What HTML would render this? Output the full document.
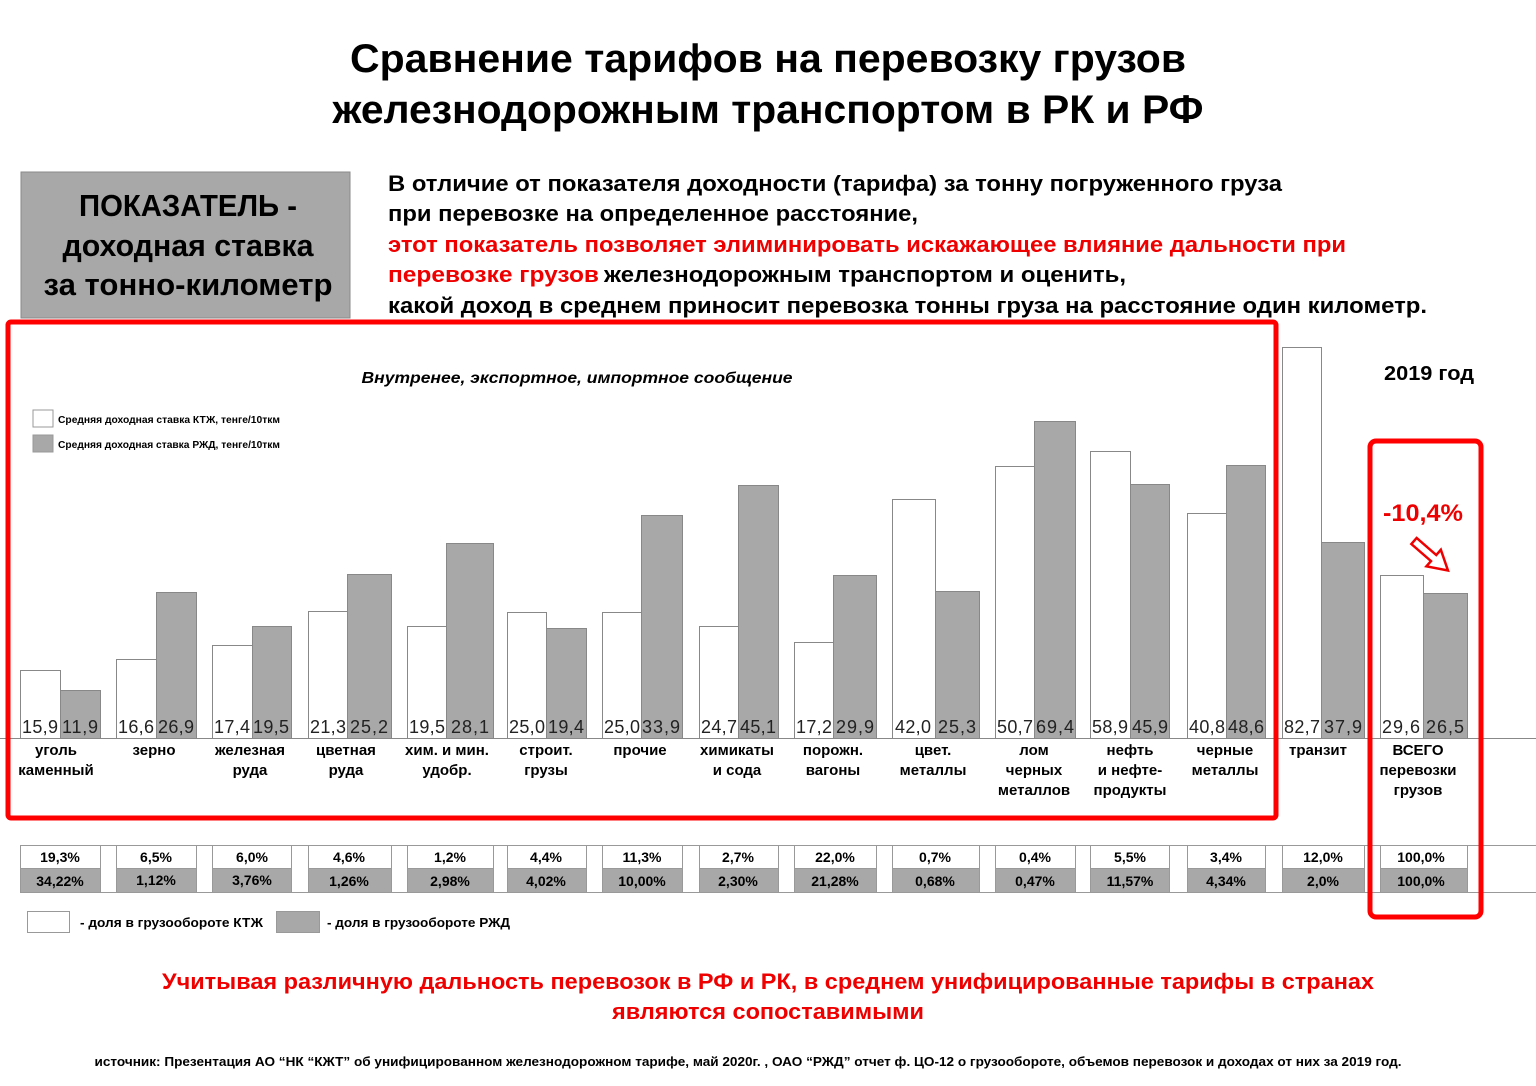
<!DOCTYPE html>
<html><head><meta charset="utf-8"><style>html,body{margin:0;padding:0;background:#fff}svg{display:block}</style></head><body>
<svg width="1536" height="1086" viewBox="0 0 1536 1086" xmlns="http://www.w3.org/2000/svg" font-family="Liberation Sans, DejaVu Sans, sans-serif">
<rect width="1536" height="1086" fill="#fff"/>
<g font-weight="bold" font-size="40" fill="#000" text-anchor="middle">
<text x="768" y="72" textLength="836" lengthAdjust="spacingAndGlyphs">Сравнение тарифов на перевозку грузов</text>
<text x="768" y="123" textLength="871" lengthAdjust="spacingAndGlyphs">железнодорожным транспортом в РК и РФ</text>
</g>
<rect x="21" y="172" width="329" height="146" fill="#a8a8a8" stroke="#8a8a8a"/>
<g font-weight="bold" font-size="31" fill="#000" text-anchor="middle">
<text x="188" y="216" textLength="218" lengthAdjust="spacingAndGlyphs">ПОКАЗАТЕЛЬ -</text>
<text x="188" y="256" textLength="251" lengthAdjust="spacingAndGlyphs">доходная ставка</text>
<text x="188" y="295" textLength="289" lengthAdjust="spacingAndGlyphs">за тонно-километр</text>
</g>
<g font-weight="bold" font-size="22" fill="#000">
<text x="388" y="191" textLength="894" lengthAdjust="spacingAndGlyphs">В отличие от показателя доходности (тарифа) за тонну погруженного груза</text>
<text x="388" y="221" textLength="530" lengthAdjust="spacingAndGlyphs">при перевозке на определенное расстояние,</text>
<text x="388" y="252" textLength="958" lengthAdjust="spacingAndGlyphs" fill="#ee0000">этот показатель позволяет элиминировать искажающее влияние дальности при</text>
<text x="388" y="282" textLength="211" lengthAdjust="spacingAndGlyphs" fill="#ee0000">перевозке грузов</text>
<text x="604" y="282" textLength="522" lengthAdjust="spacingAndGlyphs">железнодорожным транспортом и оценить,</text>
<text x="388" y="313" textLength="1039" lengthAdjust="spacingAndGlyphs">какой доход в среднем приносит перевозка тонны груза на расстояние один километр.</text>
</g>
<text x="577" y="383" font-size="16" font-weight="bold" font-style="italic" text-anchor="middle" textLength="431" lengthAdjust="spacingAndGlyphs">Внутренее, экспортное, импортное сообщение</text>
<rect x="33" y="410" width="20" height="17" fill="#fff" stroke="#999"/>
<rect x="33" y="435" width="20" height="17" fill="#a8a8a8" stroke="#999"/>
<g font-size="10" font-weight="bold"><text x="58" y="423" textLength="222" lengthAdjust="spacingAndGlyphs">Средняя доходная ставка КТЖ, тенге/10ткм</text>
<text x="58" y="448" textLength="222" lengthAdjust="spacingAndGlyphs">Средняя доходная ставка РЖД, тенге/10ткм</text></g>
<text x="1429" y="380" font-size="20" font-weight="bold" text-anchor="middle" textLength="90" lengthAdjust="spacingAndGlyphs">2019 год</text>

<g stroke="#888" stroke-width="1">
<rect x="20.5" y="670.5" width="40" height="68" fill="#fff"/><rect x="60.5" y="690.5" width="40" height="48" fill="#a8a8a8"/>
<rect x="116.5" y="659.5" width="40" height="79" fill="#fff"/><rect x="156.5" y="592.5" width="40" height="146" fill="#a8a8a8"/>
<rect x="212.5" y="645.5" width="40" height="93" fill="#fff"/><rect x="252.5" y="626.5" width="39" height="112" fill="#a8a8a8"/>
<rect x="308.5" y="611.5" width="39" height="127" fill="#fff"/><rect x="347.5" y="574.5" width="44" height="164" fill="#a8a8a8"/>
<rect x="407.5" y="626.5" width="39" height="112" fill="#fff"/><rect x="446.5" y="543.5" width="47" height="195" fill="#a8a8a8"/>
<rect x="507.5" y="612.5" width="39" height="126" fill="#fff"/><rect x="546.5" y="628.5" width="40" height="110" fill="#a8a8a8"/>
<rect x="602.5" y="612.5" width="39" height="126" fill="#fff"/><rect x="641.5" y="515.5" width="41" height="223" fill="#a8a8a8"/>
<rect x="699.5" y="626.5" width="39" height="112" fill="#fff"/><rect x="738.5" y="485.5" width="40" height="253" fill="#a8a8a8"/>
<rect x="794.5" y="642.5" width="39" height="96" fill="#fff"/><rect x="833.5" y="575.5" width="43" height="163" fill="#a8a8a8"/>
<rect x="892.5" y="499.5" width="43" height="239" fill="#fff"/><rect x="935.5" y="591.5" width="44" height="147" fill="#a8a8a8"/>
<rect x="995.5" y="466.5" width="39" height="272" fill="#fff"/><rect x="1034.5" y="421.5" width="41" height="317" fill="#a8a8a8"/>
<rect x="1090.5" y="451.5" width="40" height="287" fill="#fff"/><rect x="1130.5" y="484.5" width="39" height="254" fill="#a8a8a8"/>
<rect x="1187.5" y="513.5" width="39" height="225" fill="#fff"/><rect x="1226.5" y="465.5" width="39" height="273" fill="#a8a8a8"/>
<rect x="1282.5" y="347.5" width="39" height="391" fill="#fff"/><rect x="1321.5" y="542.5" width="43" height="196" fill="#a8a8a8"/>
<rect x="1380.5" y="575.5" width="43" height="163" fill="#fff"/><rect x="1423.5" y="593.5" width="44" height="145" fill="#a8a8a8"/>
</g>
<line x1="0" y1="738.5" x2="1536" y2="738.5" stroke="#888"/>
<g font-size="18" fill="#222" text-anchor="middle" lengthAdjust="spacingAndGlyphs">
<text x="40" y="733" textLength="36">15,9</text><text x="80" y="733" textLength="36">11,9</text>
<text x="136" y="733" textLength="36">16,6</text><text x="176" y="733" textLength="36">26,9</text>
<text x="232" y="733" textLength="36">17,4</text><text x="271" y="733" textLength="36">19,5</text>
<text x="328" y="733" textLength="36">21,3</text><text x="369" y="733" textLength="38">25,2</text>
<text x="427" y="733" textLength="36">19,5</text><text x="470" y="733" textLength="38">28,1</text>
<text x="527" y="733" textLength="36">25,0</text><text x="566" y="733" textLength="36">19,4</text>
<text x="622" y="733" textLength="36">25,0</text><text x="661" y="733" textLength="38">33,9</text>
<text x="719" y="733" textLength="36">24,7</text><text x="758" y="733" textLength="36">45,1</text>
<text x="814" y="733" textLength="36">17,2</text><text x="855" y="733" textLength="38">29,9</text>
<text x="913" y="733" textLength="36">42,0</text><text x="957" y="733" textLength="38">25,3</text>
<text x="1015" y="733" textLength="36">50,7</text><text x="1055" y="733" textLength="38">69,4</text>
<text x="1110" y="733" textLength="36">58,9</text><text x="1150" y="733" textLength="36">45,9</text>
<text x="1207" y="733" textLength="36">40,8</text><text x="1246" y="733" textLength="36">48,6</text>
<text x="1302" y="733" textLength="36">82,7</text><text x="1343" y="733" textLength="38">37,9</text>
<text x="1401" y="733" textLength="38">29,6</text><text x="1445" y="733" textLength="38">26,5</text>
</g>
<g font-size="15" font-weight="bold" text-anchor="middle">
<text x="56" y="755">уголь</text><text x="56" y="775">каменный</text>
<text x="154" y="755">зерно</text>
<text x="250" y="755">железная</text><text x="250" y="775">руда</text>
<text x="346" y="755">цветная</text><text x="346" y="775">руда</text>
<text x="447" y="755">хим. и мин.</text><text x="447" y="775">удобр.</text>
<text x="546" y="755">строит.</text><text x="546" y="775">грузы</text>
<text x="640" y="755">прочие</text>
<text x="737" y="755">химикаты</text><text x="737" y="775">и сода</text>
<text x="833" y="755">порожн.</text><text x="833" y="775">вагоны</text>
<text x="933" y="755">цвет.</text><text x="933" y="775">металлы</text>
<text x="1034" y="755">лом</text><text x="1034" y="775">черных</text><text x="1034" y="795">металлов</text>
<text x="1130" y="755">нефть</text><text x="1130" y="775">и нефте-</text><text x="1130" y="795">продукты</text>
<text x="1225" y="755">черные</text><text x="1225" y="775">металлы</text>
<text x="1318" y="755">транзит</text>
<text x="1418" y="755">ВСЕГО</text><text x="1418" y="775">перевозки</text><text x="1418" y="795">грузов</text>
</g>
<rect x="8" y="322" width="1268" height="496" rx="3" fill="none" stroke="#ff0000" stroke-width="5"/>

<g fill="#a8a8a8" stroke="#999">
<rect x="20.5" y="868.5" width="80" height="24"/><rect x="116.5" y="868.5" width="80" height="24"/>
<rect x="212.5" y="868.5" width="79" height="24"/><rect x="308.5" y="868.5" width="83" height="24"/>
<rect x="407.5" y="868.5" width="86" height="24"/><rect x="507.5" y="868.5" width="79" height="24"/>
<rect x="602.5" y="868.5" width="80" height="24"/><rect x="699.5" y="868.5" width="79" height="24"/>
<rect x="794.5" y="868.5" width="82" height="24"/><rect x="892.5" y="868.5" width="87" height="24"/>
<rect x="995.5" y="868.5" width="80" height="24"/><rect x="1090.5" y="868.5" width="79" height="24"/>
<rect x="1187.5" y="868.5" width="78" height="24"/><rect x="1282.5" y="868.5" width="82" height="24"/>
<rect x="1380.5" y="868.5" width="87" height="24"/>
</g>
<g stroke="#999" fill="none">
<line x1="20" y1="845.5" x2="1536" y2="845.5"/><line x1="20" y1="892.5" x2="1536" y2="892.5"/>
<rect x="20.5" y="845.5" width="80" height="23"/><rect x="116.5" y="845.5" width="80" height="23"/>
<rect x="212.5" y="845.5" width="79" height="23"/><rect x="308.5" y="845.5" width="83" height="23"/>
<rect x="407.5" y="845.5" width="86" height="23"/><rect x="507.5" y="845.5" width="79" height="23"/>
<rect x="602.5" y="845.5" width="80" height="23"/><rect x="699.5" y="845.5" width="79" height="23"/>
<rect x="794.5" y="845.5" width="82" height="23"/><rect x="892.5" y="845.5" width="87" height="23"/>
<rect x="995.5" y="845.5" width="80" height="23"/><rect x="1090.5" y="845.5" width="79" height="23"/>
<rect x="1187.5" y="845.5" width="78" height="23"/><rect x="1282.5" y="845.5" width="82" height="23"/>
<rect x="1380.5" y="845.5" width="87" height="23"/>
</g>
<g font-size="14" font-weight="bold" text-anchor="middle">
<text x="60" y="862">19,3%</text><text x="156" y="862">6,5%</text><text x="252" y="862">6,0%</text><text x="349" y="862">4,6%</text><text x="450" y="862">1,2%</text><text x="546" y="862">4,4%</text><text x="642" y="862">11,3%</text><text x="738" y="862">2,7%</text><text x="835" y="862">22,0%</text><text x="935" y="862">0,7%</text><text x="1035" y="862">0,4%</text><text x="1130" y="862">5,5%</text><text x="1226" y="862">3,4%</text><text x="1323" y="862">12,0%</text><text x="1421" y="862">100,0%</text>
<text x="60" y="886">34,22%</text><text x="156" y="885">1,12%</text><text x="252" y="885">3,76%</text><text x="349" y="886">1,26%</text><text x="450" y="886">2,98%</text><text x="546" y="886">4,02%</text><text x="642" y="886">10,00%</text><text x="738" y="886">2,30%</text><text x="835" y="886">21,28%</text><text x="935" y="886">0,68%</text><text x="1035" y="886">0,47%</text><text x="1130" y="886">11,57%</text><text x="1226" y="886">4,34%</text><text x="1323" y="886">2,0%</text><text x="1421" y="886">100,0%</text>
</g>
<rect x="1370" y="441" width="111" height="476" rx="6" fill="none" stroke="#ff0000" stroke-width="5"/>
<text x="1423" y="521" font-size="24" font-weight="bold" fill="#ee0000" text-anchor="middle" textLength="80" lengthAdjust="spacingAndGlyphs">-10,4%</text>
<polygon transform="translate(1414,541) rotate(41)" points="0,-4 26,-4 26,-11 45,0 26,11 26,4 0,4" fill="#fff" stroke="#ee0000" stroke-width="2.5" stroke-linejoin="miter"/>

<rect x="27.5" y="911.5" width="42" height="21" fill="#fff" stroke="#999"/>
<rect x="276.5" y="911.5" width="43" height="21" fill="#a8a8a8" stroke="#999"/>
<g font-size="13" font-weight="bold">
<text x="80" y="927" textLength="183" lengthAdjust="spacingAndGlyphs">- доля в грузообороте КТЖ</text>
<text x="327" y="927" textLength="183" lengthAdjust="spacingAndGlyphs">- доля в грузообороте РЖД</text>
</g>
<g font-size="22" font-weight="bold" fill="#ee0000" text-anchor="middle">
<text x="768" y="989" textLength="1212" lengthAdjust="spacingAndGlyphs">Учитывая различную дальность перевозок в РФ и РК, в среднем унифицированные тарифы в странах</text>
<text x="768" y="1019" textLength="312" lengthAdjust="spacingAndGlyphs">являются сопоставимыми</text>
</g>
<text x="748" y="1066" font-size="13" font-weight="bold" text-anchor="middle" textLength="1307" lengthAdjust="spacingAndGlyphs">источник: Презентация АО “НК “КЖТ” об унифицированном железнодорожном тарифе, май 2020г. , ОАО “РЖД” отчет ф. ЦО-12 о грузообороте, объемов перевозок и доходах от них за 2019 год.</text>
</svg>
</body></html>
